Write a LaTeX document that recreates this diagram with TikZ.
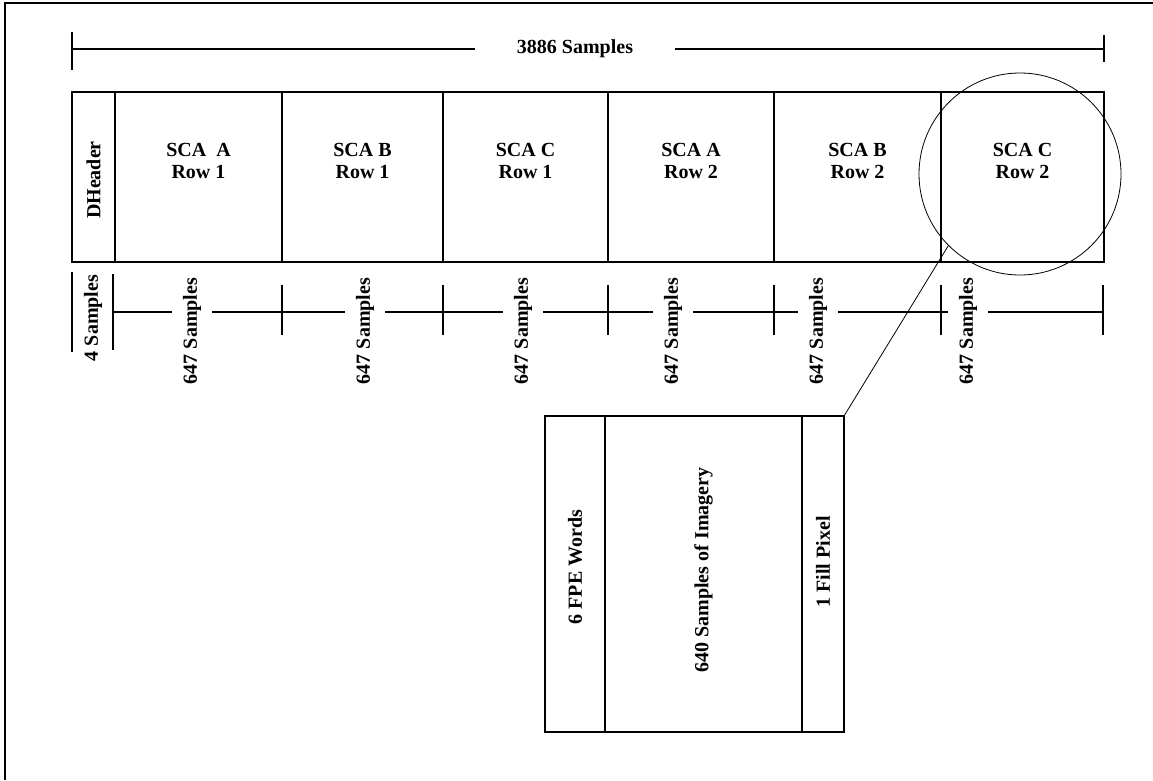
\documentclass[tikz,border=0pt]{standalone}
\usepackage{fontspec}
\setmainfont{Liberation Serif}
\usetikzlibrary{positioning,calc}

\begin{document}
\begin{tikzpicture}[
  x=1pt, y=-1pt,
  node distance=0pt,
  cell/.style={draw, line width=1.2pt, minimum height=170pt, inner sep=0pt, outer sep=0pt},
  part/.style={draw, line width=1.2pt, minimum height=316pt, inner sep=0pt, outer sep=0pt},
  txt/.style={font=\fontsize{20}{22}\selectfont\bfseries, align=center, inner sep=0pt},
  gap/.style={txt, fill=white},
  dim/.style={line width=1.1pt}
]
\useasboundingbox (0,0) rectangle (1153,780);
\draw[line width=1.6pt] (5,780) -- (5,3) -- (1153,3);

% record row
\node[cell, minimum width=43pt, anchor=north west] (dh) at (72,92) {};
\node[cell, minimum width=167pt, right=of dh] (a1) {};
\node[cell, minimum width=161pt, right=of a1] (b1) {};
\node[cell, minimum width=165pt, right=of b1] (c1) {};
\node[cell, minimum width=166pt, right=of c1] (a2) {};
\node[cell, minimum width=167pt, right=of a2] (b2) {};
\node[cell, minimum width=163pt, right=of b2] (c2) {};

\node[txt, rotate=90] (tdh) at ([yshift=-3pt]dh.center) {DHeader};
\node[txt] (ta1) at ([yshift=16pt]a1.center) {SCA\ \ A\\Row 1};
\node[txt] (tb1) at ([yshift=16pt]b1.center) {SCA B\\Row 1};
\node[txt] (tc1) at ([yshift=16pt]c1.center) {SCA C\\Row 1};
\node[txt] (ta2) at ([yshift=16pt]a2.center) {SCA A\\Row 2};
\node[txt] (tb2) at ([yshift=16pt]b2.center) {SCA B\\Row 2};
\node[txt] (tc2) at ([yshift=16pt]c2.center) {SCA C\\Row 2};

% total span
\coordinate (top) at (0,49);
\draw[dim] (dh.north west |- top) -- (c2.north east |- top);
\draw[dim] ([yshift=60pt]dh.north west) -- ++(0,38);
\draw[dim] ([yshift=57pt]c2.north east) -- ++(0,27);
\node[gap, inner xsep=42pt, inner ysep=4pt] (total) at (575,49) {3886 Samples};

% sample spans
\coordinate (lvl) at (0,312);
\draw[dim] ([yshift=-10pt]dh.south west) -- ++(0,80);
\draw[dim] ([xshift=-2pt,yshift=-12pt]dh.south east) -- ++(0,76);
\draw[dim] ([xshift=-2pt]dh.south east |- lvl) -- (c2.south east |- lvl);
\draw[dim] ([yshift=-23pt]a1.south east) -- ++(0,50);
\draw[dim] ([yshift=-23pt]b1.south east) -- ++(0,50);
\draw[dim] ([yshift=-23pt]c1.south east) -- ++(0,50);
\draw[dim] ([yshift=-23pt]a2.south east) -- ++(0,50);
\draw[dim] ([yshift=-23pt]b2.south east) -- ++(0,50);
\draw[dim] ([xshift=-1pt,yshift=-23pt]c2.south east) -- ++(0,50);

\node[txt, rotate=90] (s0) at (93,318) {4 Samples};
\node[gap, rotate=90, inner xsep=2pt, inner ysep=11pt] (s1) at (192,331) {647 Samples};
\node[gap, rotate=90, inner xsep=2pt, inner ysep=11pt] (s2) at (365,331) {647 Samples};
\node[gap, rotate=90, inner xsep=2pt, inner ysep=11pt] (s3) at (523,331) {647 Samples};
\node[gap, rotate=90, inner xsep=2pt, inner ysep=11pt] (s4) at (673,331) {647 Samples};
\node[gap, rotate=90, inner xsep=2pt, inner ysep=11pt] (s5) at (818,331) {647 Samples};
\node[gap, rotate=90, inner xsep=2pt, inner ysep=11pt] (s6) at (968,331) {647 Samples};

% detail of one segment
\node[part, minimum width=60pt, anchor=north west] (fpe) at (545,416) {};
\node[part, minimum width=197pt, right=of fpe] (img) {};
\node[part, minimum width=42pt, right=of img] (fillpx) {};

\node[txt, rotate=90] (tfpe) at ([yshift=7pt]fpe.center) {6 FPE Words};
\node[txt, rotate=90] (timg) at ([yshift=4pt]img.center) {640 Samples of Imagery};
\node[txt, rotate=90] (tfill) at ([yshift=12pt]fillpx.center) {1 Fill Pixel};

\node[draw, circle, line width=0.8pt, minimum size=202pt, inner sep=0pt] (zoom) at (1020,174) {};
\draw[line width=0.8pt] (zoom.225) -- (fillpx.north east);
\end{tikzpicture}
\end{document}
